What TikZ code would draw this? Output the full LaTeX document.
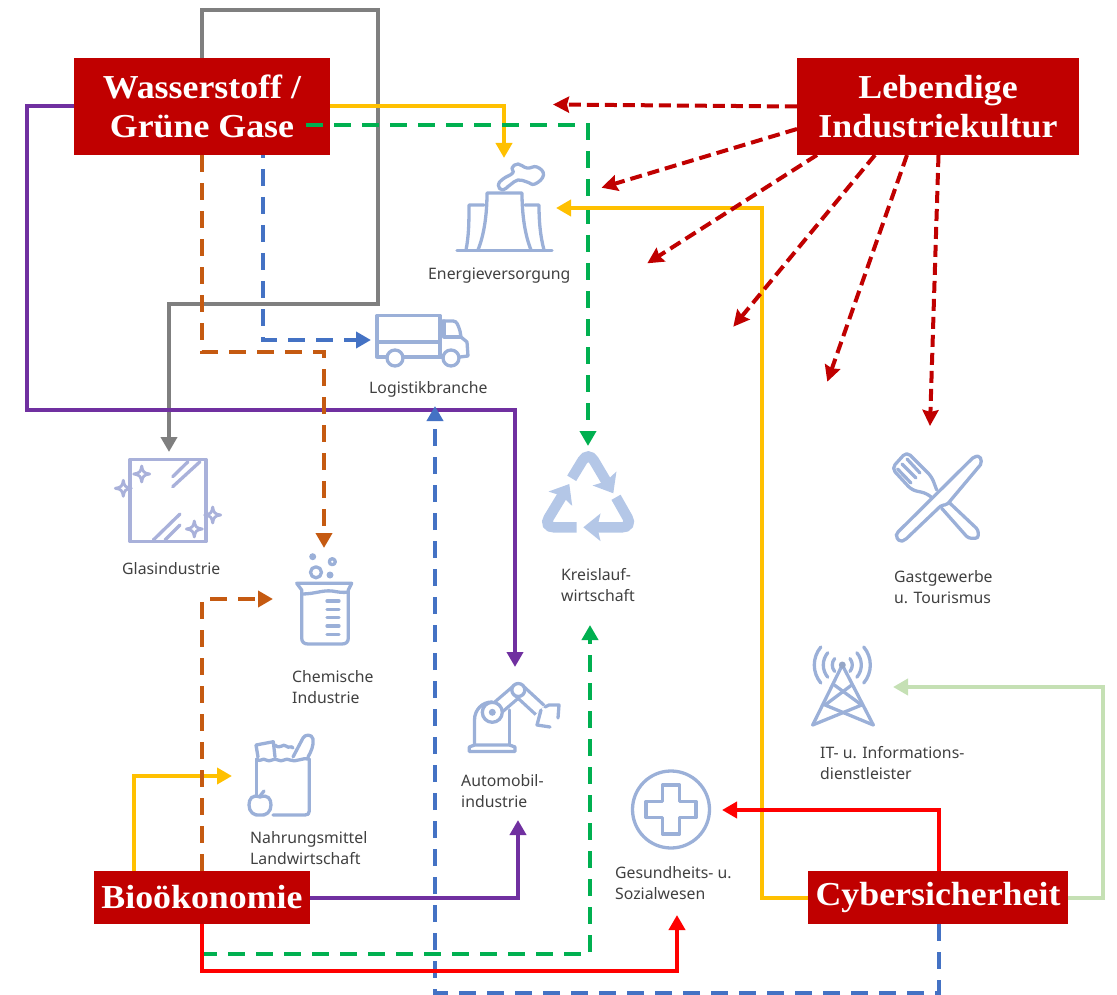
\documentclass[tikz,border=0pt]{standalone}
\usepackage{fontspec}
\setmainfont{Noto Sans}
\newfontfamily\headfont[FakeStretch=1.07]{Liberation Serif}
\usetikzlibrary{arrows.meta}
\definecolor{boxred}{HTML}{C00000}
\definecolor{lineyellow}{HTML}{FFC000}
\definecolor{linegreen}{HTML}{00B050}
\definecolor{linepurple}{HTML}{7030A0}
\definecolor{lineorange}{HTML}{C55A11}
\definecolor{lineblue}{HTML}{4472C4}
\definecolor{linegray}{HTML}{7F7F7F}
\definecolor{linepale}{HTML}{C5E0B4}
\definecolor{iconblue}{HTML}{9BB0D8}
\definecolor{iconglass}{HTML}{A9B1DA}
\definecolor{iconfill}{HTML}{B4C7E7}
\definecolor{labelgray}{HTML}{404040}
\tikzset{
  topic/.style={fill=boxred,text=white,inner sep=0pt,align=center,
    font=\headfont\bfseries\fontsize{33.5}{39}\selectfont},
  branch/.style={anchor=west,inner sep=0pt,align=left,text=labelgray,
    font=\fontsize{15.8}{21}\selectfont},
  link/.style={line width=4pt,
    -{Triangle[length=15pt,width=16pt]}},
  dlink/.style={link,dash pattern=on 17pt off 11pt},
  hint/.style={line width=4pt,boxred,dash pattern=on 12pt off 6pt,
    -{Stealth[length=16pt,width=16pt,inset=2pt]}},
  icon/.style={iconblue,line width=3.3pt,line join=round,line cap=round},
  glass/.style={icon,iconglass},
  recyc/.style={iconfill,line width=10.5pt,rounded corners=11pt,
    -{Stealth[length=17pt,width=27pt,inset=3pt]}},
  sparkle/.pic={\draw[glass,line width=2.8pt] (0,-8) .. controls (1,-2) and (2,-1) .. (8,0)
    .. controls (2,1) and (1,2) .. (0,8) .. controls (-1,2) and (-2,1) .. (-8,0)
    .. controls (-2,-1) and (-1,-2) .. (0,-8) -- cycle;}
}
\begin{document}
\begin{tikzpicture}[x=1pt,y=-1pt]
  \useasboundingbox (0,0) rectangle (1117,995);
  % topics
  \node[topic,minimum width=256pt,minimum height=97pt] (wasser) at (202,106.5) {Wasserstoff /\\Grüne Gase};
  \node[topic,minimum width=282pt,minimum height=97pt] (kultur) at (938,106.5) {Lebendige\\Industriekultur};
  \node[topic,minimum width=216pt,minimum height=53pt] (bio) at (202,897.5) {Bioökonomie};
  \node[topic,minimum width=260pt,minimum height=53pt] (cyber) at (938,897.5) {Cybersicherheit};
  % branches
  \node[branch] (energie) at (428,276) {Energieversorgung};
  \node[branch] (logistik) at (369,389) {Logistikbranche};
  \node[branch] (glas) at (122,569) {Glasindustrie};
  \node[branch] (chemie) at (292,687.5) {Chemische\\Industrie};
  \node[branch] (kreis) at (561,585.5) {Kreislauf-\\wirtschaft};
  \node[branch] (auto) at (461,791.5) {Automobil-\\industrie};
  \node[branch] (nahrung) at (250,848.5) {Nahrungsmittel\\Landwirtschaft};
  \node[branch] (gesund) at (615,883.5) {Gesundheits- u.\\Sozialwesen};
  \node[branch] (gast) at (894,587.5) {Gastgewerbe\\u. Tourismus};
  \node[branch] (it) at (820,763.5) {IT- u. Informations-\\dienstleister};
  % free ends
  \coordinate (wgreen) at (306,125);
  \coordinate (wblue) at (263,155);
  \coordinate (energie top) at (504,158);
  \coordinate (energie side) at (556,208);
  \coordinate (logistik side) at (371,340);
  \coordinate (logistik low) at (435,406);
  \coordinate (glas top) at (169,452);
  \coordinate (chemie top) at (324,548);
  \coordinate (chemie side) at (273,599);
  \coordinate (kreis top) at (588,446);
  \coordinate (kreis low) at (590,625);
  \coordinate (auto top) at (515,667);
  \coordinate (auto low) at (518,820);
  \coordinate (nahrung side) at (232,776);
  \coordinate (gesund side) at (722,810);
  \coordinate (gesund low) at (677,915);
  \coordinate (it side) at (893,687);
  \coordinate (bluedown) at (939,924);
  \coordinate (yelup) at (134,871);
  \coordinate (dredtop) at (939,871);
  % from Wasserstoff
  \draw[link,linegray] (wasser.north) |- (378,10) |- (169,304) -- (glas top);
  \draw[link,linepurple] (wasser.west) -| (27,410) -| (auto top);
  \draw[dlink,lineorange] (wasser.south) |- (324,352) -- (chemie top);
  \draw[dlink,lineblue,dash phase=14pt] (wblue) |- (logistik side);
  \draw[link,lineyellow] (wasser.east) -| (energie top);
  \draw[dlink,linegreen] (wgreen) -| (kreis top);
  % from Cybersicherheit
  \draw[link,lineyellow] (cyber.west) -| (762,208) -- (energie side);
  \draw[link,red] (dredtop) |- (gesund side);
  \draw[link,linepale] (cyber.east) -| (1103,687) -- (it side);
  \draw[dlink,lineblue] (bluedown) |- (435,993) -- (logistik low);
  % from Bioökonomie
  \draw[link,lineyellow] (yelup) |- (nahrung side);
  \draw[dlink,lineorange] (bio.north) |- (chemie side);
  \draw[link,linepurple] (bio.east) -| (auto low);
  \draw[dlink,linegreen] (bio.south) |- (590,954) -- (kreis low);
  \draw[link,red] (bio.south) |- (677,971) -- (gesund low);
  % from Lebendige Industriekultur
  \coordinate (k1) at (553,104.5);
  \coordinate (k2) at (601.5,187.7);
  \coordinate (k3) at (647.3,263.3);
  \coordinate (k4) at (733.3,326.7);
  \coordinate (k5) at (827.3,381.7);
  \coordinate (k6) at (930,426);
  \coordinate (s2) at (797,129);
  \coordinate (s3) at (817,155);
  \coordinate (s4) at (875,155);
  \coordinate (s5) at (907,155);
  \coordinate (s6) at (938.5,155);
  \draw[hint] (kultur.west) -- (k1);
  \draw[hint] (s2) -- (k2);
  \draw[hint] (s3) -- (k3);
  \draw[hint] (s4) -- (k4);
  \draw[hint] (s5) -- (k5);
  \draw[hint] (s6) -- (k6);
  % cooling towers
  \draw[icon] (457,250.5) -- (552,250.5);
  \draw[icon] (478,250) .. controls (484,235) and (487,215) .. (487,193) -- (522,193)
    .. controls (522,215) and (525,235) .. (531,250);
  \draw[icon] (466,250) .. controls (469,235) and (469,220) .. (469,205) -- (484,205);
  \draw[icon] (525,205) -- (539,205) .. controls (539,220) and (540,235) .. (544,250);
  \draw[icon] plot[smooth cycle,tension=0.8] coordinates {(498.3,185) (502.7,190) (510,185) (518,180)
    (527,182) (535,184) (543.5,175) (537,167) (527,168) (518,164) (512,168) (512.7,173) (503,179)};
  % truck
  \draw[icon] (387,357) -- (377,357) -- (377,315.5) -- (440,315.5) -- (440,357);
  \draw[icon] (377,342) -- (440,342);
  \draw[icon] (403,357) -- (443,357);
  \draw[icon] (440,321) -- (453,321) .. controls (457,321) and (458,325) .. (460,331)
    -- (461,337) -- (467,342) -- (468,356) -- (460,357);
  \draw[icon] (444,321) -- (444,337) -- (461,337);
  \draw[icon] (395,358) circle[radius=8];
  \draw[icon] (451,358) circle[radius=8];
  % glass
  \draw[glass] (130,459.5) rectangle (206,541.5);
  \draw[glass] (172.7,476.7) -- (188,461.7);
  \draw[glass] (172.7,486.7) -- (200,461.7);
  \draw[glass] (153.3,540) -- (180,514);
  \draw[glass] (165,540) -- (180,525);
  \pic at (141.7,474) {sparkle};
  \pic at (123.3,488.3) {sparkle};
  \pic at (212.7,515) {sparkle};
  \pic at (194.3,529) {sparkle};
  % beaker
  \draw[icon] (296.7,583.3) -- (351.7,583.3) -- (348.3,590) -- (348.3,638)
    .. controls (348.3,642) and (346,644) .. (342,644) -- (308,644)
    .. controls (304,644) and (301.7,642) .. (301.7,638) -- (301.7,590) -- cycle;
  \draw[icon] (301.7,594) .. controls (315,594) and (322,590) .. (332,591) .. controls (338,592) and (343,593) .. (348.3,592);
  \foreach \y in {601,609.3,617.7,626,634.3}
    \draw[icon] (327,\y) -- (339,\y);
  \draw[icon] (316,572.3) circle[radius=5.5];
  \draw[icon] (332.3,561.7) circle[radius=3];
  \fill[iconblue] (312.7,556.7) circle[radius=3.5];
  \fill[iconblue] (330,575) circle[radius=3.5];
  % recycling
  \draw[recyc] (571.7,478.3) -- (588.3,451) -- (613.3,493.3);
  \draw[recyc] (576.7,527.3) -- (543,527.3) -- (569.3,484);
  \draw[recyc] (616,497.3) -- (633,527.3) -- (583.3,527.3);
  % robot
  \draw[icon] (469.3,751.5) -- (515,751.5) -- (515,747) -- (509.5,745) -- (474.5,745) -- (469.3,747) -- cycle;
  \draw[icon] (474.5,745) -- (474.5,720) .. controls (474.5,710) and (482,702) .. (492,702);
  \draw[icon] (509.5,745) -- (509.5,710);
  \draw[icon,double=white,double distance=9pt,line cap=butt] (492.3,712.3) -- (518.3,690);
  \draw[icon,double=white,double distance=9pt,line cap=butt] (518.3,690) -- (540,710);
  \draw[icon,fill=white] (492.3,712.3) circle[radius=10];
  \fill[iconblue] (492.3,712.3) circle[radius=3.5];
  \draw[icon,fill=white] (518.3,690) circle[radius=6.5];
  \draw[icon] (545,707) -- (549,705) -- (559,705) -- (558,718);
  \draw[icon] (541,710) -- (537,725) -- (550,727);
  % food bag
  \draw[icon] (273,815) -- (305,815) .. controls (308,815) and (309.3,814) .. (309.3,811) -- (309.3,759);
  \draw[icon] (256.7,795) -- (256.7,759);
  \draw[icon] (256.7,759) .. controls (260,763) and (263,757) .. (266,760) .. controls (270,763) and (274,757) .. (278,760)
    .. controls (282,763) and (286,757) .. (290,760) .. controls (295,763) and (303,757) .. (309.3,759);
  \draw[icon] (258,757) -- (256,745) -- (273.3,741.7) -- (275,757);
  \draw[icon] (275,745) .. controls (280,750) and (283,743) .. (286,746) .. controls (289,749) and (291,745) .. (293,748);
  \draw[icon] (293,757) -- (303,738) .. controls (305,734) and (312,734) .. (313,739) .. controls (314,745) and (311,752) .. (308,757);
  \draw[icon] (260,797) .. controls (268,794) and (271,799) .. (271,805) .. controls (271,812) and (266,816) .. (260,815)
    .. controls (254,816) and (249,812) .. (249,805) .. controls (249,799) and (252,794) .. (260,797) -- cycle;
  \draw[icon] (260,796) -- (264,791);
  % cross
  \draw[icon] (671,809.5) circle[radius=38.5];
  \draw[icon] (662.5,785) -- (679.5,785) -- (679.5,801.5) -- (696,801.5) -- (696,817.5) -- (679.5,817.5) -- (679.5,834)
    -- (662.5,834) -- (662.5,817.5) -- (646,817.5) -- (646,801.5) -- (662.5,801.5) -- cycle;
  % cutlery
  \draw[icon,rounded corners=2pt] (896,536.7) -- (900,541.7) -- (905,540) -- (941.7,505) -- (946.7,505)
    -- (981.7,463.3) -- (980,456) -- (974,456.7) -- (896.7,533.3) -- cycle;
  \draw[icon,rounded corners=5pt] (936.7,490) -- (931.7,476.7) -- (906.7,451.7) -- (891.7,468.3) -- (911.7,490) -- (926.7,493.3) -- (930.7,496.7);
  \draw[icon] (907,459) -- (920,473);
  \draw[icon] (902,464) -- (916,478);
  \draw[icon] (897.5,469) -- (911,483);
  \draw[icon,rounded corners=3pt] (941.7,508.3) -- (968.3,538.3) -- (978.3,538.3) -- (978.3,530) -- (950,503.3);
  % mast
  \draw[icon] (812.7,725) -- (842.3,665) -- (873.3,725);
  \draw[icon] (834.3,685) -- (861.7,705) -- (812.7,725);
  \draw[icon] (851.7,685) -- (825,705) -- (873.3,725);
  \fill[iconblue!80!gray] (842.3,665) circle[radius=3.5];
  \foreach \r in {10,19,28} {
    \draw[icon] (842.3,665) ++(140:\r) arc[start angle=140,end angle=220,radius=\r];
    \draw[icon] (842.3,665) ++(-40:\r) arc[start angle=-40,end angle=40,radius=\r];
  }
\end{tikzpicture}
\end{document}
